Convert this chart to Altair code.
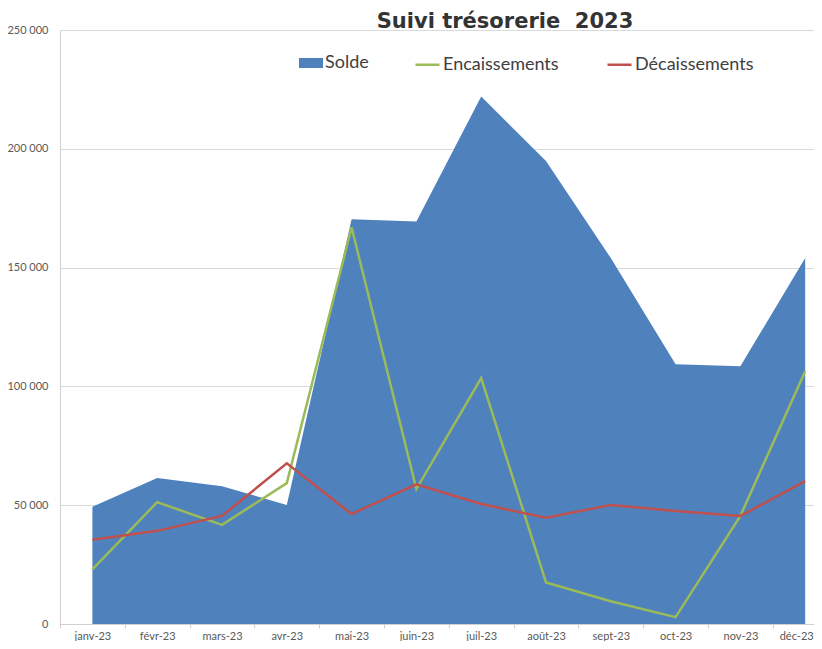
import altair as alt
import pandas as pd

title_text = "Suivi trésorerie \u00a02023"
months = ["janv-23", "févr-23", "mars-23", "avr-23", "mai-23", "juin-23",
          "juil-23", "août-23", "sept-23", "oct-23", "nov-23", "déc-23"]
solde = [49300, 61400, 58000, 50100, 170300, 169400,
         222000, 194900, 154000, 109300, 108500, 154000]
encaissements = [23000, 51300, 41700, 59300, 167000, 56800,
                 103500, 17500, 9600, 2900, 45500, 106400]
decaissements = [35500, 39200, 45500, 67600, 46300, 58800,
                 50500, 44700, 50100, 47600, 45500, 60100]

FONT = "Lato"
BLUE, GREEN, RED = "#4f81bd", "#9bbb59", "#c0504d"

idx = list(range(len(months)))
df_solde = pd.DataFrame({"idx": idx, "mois": months, "value": solde, "series": "Solde"})
df_lines = pd.concat([
    pd.DataFrame({"idx": idx, "mois": months, "value": encaissements, "series": "Encaissements"}),
    pd.DataFrame({"idx": idx, "mois": months, "value": decaissements, "series": "Décaissements"}),
])

months_js = "[" + ",".join("'" + m + "'" for m in months) + "]"
x_vals = [i / 2 - 0.5 for i in range(0, 24)]
last = len(months) - 1

x_enc = alt.X(
    "idx:Q",
    scale=alt.Scale(domain=[-0.5, 11.136], nice=False, zero=False),
    axis=alt.Axis(
        title=None,
        values=x_vals,
        grid=False,
        domainColor="#d0d0d0",
        tickColor="#d0d0d0",
        tickSize=4,
        tickOpacity={"condition": {"test": "datum.value % 1 !== 0", "value": 1}, "value": 0},
        labelExpr=f"datum.value % 1 === 0 ? {months_js}[datum.value] : ''",
        labelOffset={"condition": {"test": f"datum.value === {last}", "value": -9}, "value": 0},
        labelFont=FONT,
        labelFontSize=11,
        labelColor="#595959",
        labelPadding=2,
        labelFlush=False,
        labelOverlap=False,
    ),
)
y_enc = alt.Y(
    "value:Q",
    scale=alt.Scale(domain=[0, 250000], nice=False),
    axis=alt.Axis(
        title=None,
        values=[0, 50000, 100000, 150000, 200000, 250000],
        labelExpr="replace(format(datum.value, ','), ',', ' ')",
        ticks=False,
        domainColor="#d0d0d0",
        gridColor="#d9d9d9",
        labelFont=FONT,
        labelFontSize=11,
        labelColor="#595959",
        labelPadding=12,
    ),
)

area = alt.Chart(df_solde).mark_area(opacity=1).encode(
    x=x_enc,
    y=y_enc,
    fill=alt.Fill(
        "series:N",
        scale=alt.Scale(domain=["Solde"], range=[BLUE]),
        legend=alt.Legend(
            title=None, orient="none", legendX=239, legendY=21, direction="horizontal",
            symbolType="M-1,-0.42H1V0.42H-1Z", symbolSize=576, symbolStrokeWidth=0,
            labelFont=FONT, labelFontSize=18, labelColor="#404040", labelOffset=2,
            padding=0,
        ),
    ),
)

lines = alt.Chart(df_lines).mark_line(strokeWidth=2.5).encode(
    x=x_enc,
    y=y_enc,
    detail="series:N",
    stroke=alt.Stroke(
        "series:N",
        scale=alt.Scale(domain=["Encaissements", "Décaissements"], range=[GREEN, RED]),
        sort=["Encaissements", "Décaissements"],
        legend=alt.Legend(
            title=None, orient="none", legendX=354, legendY=21, direction="horizontal",
            symbolType="stroke", symbolSize=576, symbolStrokeWidth=2.5,
            labelFont=FONT, labelFontSize=18, labelColor="#404040", labelOffset=2,
            columnPadding=43, padding=0,
        ),
    ),
)

title = alt.Chart(pd.DataFrame({"t": [title_text]})).mark_text(
    font="DejaVu Sans", fontSize=21, fontWeight="bold", color="#333333",
    align="center", baseline="alphabetic",
).encode(text="t:N", x=alt.value(445), y=alt.value(-2))

chart = alt.layer(area, lines, title).properties(
    width=754,
    height=594,
    autosize=alt.AutoSizeParams(type="none"),
    padding={"left": 52, "top": 22, "right": 0, "bottom": 17},
).configure_view(stroke=None).configure(background="white")

chart.save("out.html", embed_options={"renderer": "svg", "actions": False})
